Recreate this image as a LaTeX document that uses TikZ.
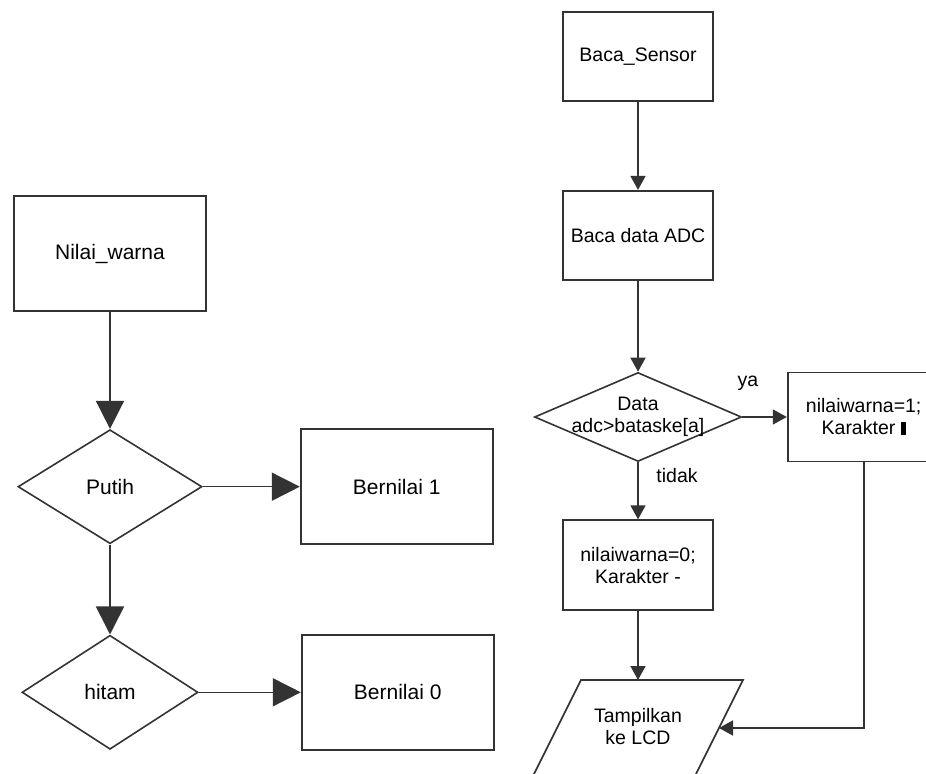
\documentclass[tikz,border=0pt]{standalone}
\usepackage{fontspec}
\setmainfont{Liberation Sans}
\usepackage{tikz}
\usetikzlibrary{positioning,shapes.geometric,arrows.meta}
\newcommand{\teksKiri}{\fontsize{10.5}{12.6}\selectfont}
\newcommand{\teksKanan}{\fontsize{9.75}{11}\selectfont}

\begin{document}
\begin{tikzpicture}[x=0.5pt, y=-0.5pt,
	garis/.style={draw=black!80, line width=0.8pt},
	kotak/.style={rectangle, draw=black!80, line width=0.9pt, inner sep=0pt, align=center},
	kotakL/.style={kotak, minimum width=96pt, minimum height=57.5pt, font=\teksKiri},
	kotakR/.style={kotak, minimum width=75pt, minimum height=44.5pt, font=\teksKanan},
	belah/.style={diamond, garis, inner sep=0pt, align=center},
	panahL/.style={garis, -{Triangle[width=14pt,length=14pt]}},
	panahR/.style={garis, -{Triangle[width=7.5pt,length=7pt]}},
	lbl/.style={font=\teksKanan, inner sep=0pt}]
	\useasboundingbox (0,0) rectangle (926,774);

	% kiri
	\node[kotakL] (warna) at (110,253.5) {Nilai\_warna};
	\node[belah, minimum width=92pt, minimum height=57pt, font=\teksKiri, below=58.5pt of warna] (putih) {Putih};
	\node[belah, minimum width=88pt, minimum height=57pt, font=\teksKiri, below=45pt of putih] (hitam) {hitam};
	\node[kotakL, right=48.5pt of putih] (satu) {Bernilai 1};
	\node[kotakL, right=51pt of hitam] (nol) {Bernilai 0};
	\draw[panahL] (warna) -- (putih);
	\draw[panahL] (putih) -- (hitam);
	\draw[panahL] (putih) -- (satu);
	\draw[panahL] (hitam) -- (nol);

	% kanan
	\node[kotakR] (sensor) at (638,56.5) {Baca\_Sensor};
	\node[kotakR, below=44pt of sensor] (adc) {Baca data ADC};
	\node[belah, minimum width=103.5pt, minimum height=44.5pt, below=45.5pt of adc,
		label={[lbl, align=center]center:Data\\adc>bataske[a]}] (cek) {};
	\node[kotakR, minimum width=76pt, right=22.25pt of cek] (nilai1) {nilaiwarna=1;\\Karakter \rule{2.5pt}{6.5pt}};
	\node[kotakR, minimum height=45pt, below=28.5pt of cek] (nilai0) {nilaiwarna=0;\\Karakter -};
	\node[lbl, align=center] (lcd) at (638,727) {Tampilkan\\ke LCD};
	\draw[garis] (581,680) coordinate (lcdAtas) -- (743,680) -- (695,776) -- (533,776) -- cycle;
	\coordinate (lcdKanan) at (719,728);
	\node[lbl] (ya) at (748,383) {ya};
	\node[lbl] (tidak) at (677,476) {tidak};
	\draw[panahR] (sensor) -- (adc);
	\draw[panahR] (adc) -- (cek);
	\draw[panahR] (cek) -- (nilai1);
	\draw[panahR] (cek) -- (nilai0);
	\draw[panahR] (nilai0) -- (nilai0.south |- lcdAtas);
	\draw[panahR] (nilai1.south) |- (lcdKanan);
\end{tikzpicture}
\end{document}
